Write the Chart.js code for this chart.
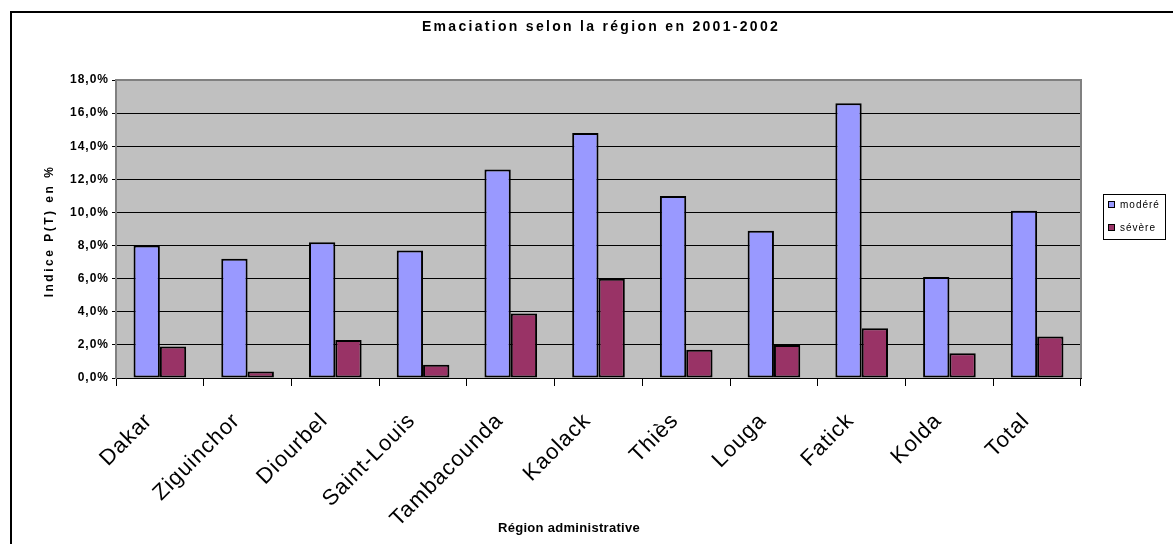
<!DOCTYPE html>
<html>
<head>
<meta charset="utf-8">
<script src="https://cdn.jsdelivr.net/npm/chart.js@4.4.1/dist/chart.umd.min.js"></script>
<style>
  html, body { margin: 0; padding: 0; background: #fff; }
  #cadre { width: 1173px; height: 544px; position: relative; }
</style>
</head>
<body>
<div id="cadre"><canvas id="graphe" width="1173" height="544"></canvas></div>
<script>
// Données (en %)
const regions = ["Dakar", "Ziguinchor", "Diourbel", "Saint-Louis", "Tambacounda", "Kaolack", "Thiès", "Louga", "Fatick", "Kolda", "Total"];
const modere = [8.0, 7.2, 8.2, 7.7, 12.6, 14.8, 11.0, 8.9, 16.6, 6.1, 10.1];
const severe = [1.9, 0.4, 2.3, 0.8, 3.9, 6.0, 1.7, 2.0, 3.0, 1.5, 2.5];
const yMax = 18;
const yPas = 2;

const titre = "Emaciation selon la région en 2001-2002";
const titreY = "Indice P(T) en %";
const titreX = "Région administrative";

const POLICE = "'Liberation Sans', Arial, sans-serif";

// espacement des lettres comme dans le rendu Excel
const espacePlugin = {
    id: "espace",
    beforeLayout(chart) { chart.ctx.letterSpacing = "1px"; },
    beforeDraw(chart) { chart.ctx.letterSpacing = "1px"; }
};

// fond blanc, cadre et zone grise
const fondPlugin = {
    id: "fond",
    beforeDraw(chart) {
        const ctx = chart.ctx, a = chart.chartArea;
        ctx.save();
        ctx.fillStyle = "#fff";
        ctx.fillRect(0, 0, chart.width, chart.height);
        ctx.fillStyle = "#000";
        ctx.fillRect(10, 11, chart.width - 10, 2);
        ctx.fillRect(10, 11, 2, chart.height - 11);
        ctx.fillStyle = "#C0C0C0";
        ctx.fillRect(a.left, a.top, a.right - a.left, a.bottom - a.top);
        ctx.restore();
    },
    afterDatasetsDraw(chart) {
        const ctx = chart.ctx, a = chart.chartArea;
        ctx.save();
        ctx.strokeStyle = "#808080";
        ctx.lineWidth = 2;
        ctx.beginPath();
        ctx.moveTo(a.left, a.top);
        ctx.lineTo(a.right, a.top);
        ctx.lineTo(a.right, a.bottom);
        ctx.stroke();
        ctx.restore();
    }
};

// titres et légende
const textesPlugin = {
    id: "textes",
    afterDraw(chart) {
        const ctx = chart.ctx;
        ctx.save();
        ctx.fillStyle = "#000";
        ctx.textAlign = "center";
        ctx.textBaseline = "middle";

        ctx.font = "bold 14px " + POLICE;
        ctx.letterSpacing = "2.3px";
        ctx.fillText(titre, 601, 27);

        ctx.letterSpacing = "0.3px";
        ctx.font = "bold 13px " + POLICE;
        ctx.fillText(titreX, 569, 528);

        ctx.save();
        ctx.translate(50, 231);
        ctx.rotate(-Math.PI / 2);
        ctx.font = "bold 12px " + POLICE;
        ctx.letterSpacing = "2.5px";
        ctx.fillText(titreY, 0, 0);
        ctx.restore();

        // légende
        ctx.fillStyle = "#fff";
        ctx.fillRect(1103, 194, 62, 45);
        ctx.strokeStyle = "#000";
        ctx.lineWidth = 1;
        ctx.strokeRect(1103.5, 194.5, 62, 45);
        ctx.textAlign = "left";
        ctx.font = "10px " + POLICE;
        ctx.letterSpacing = "1px";
        chart.data.datasets.forEach((ds, i) => {
            const y = 205 + i * 23;
            ctx.fillStyle = ds.backgroundColor;
            ctx.fillRect(1108, y - 3, 6, 6);
            ctx.strokeRect(1108.5, y - 3.5, 6, 6);
            ctx.fillStyle = "#000";
            ctx.fillText(ds.label, 1120, y);
        });
        ctx.restore();
    }
};

new Chart(document.getElementById("graphe"), {
    type: "bar",
    data: {
        labels: regions,
        datasets: [
            { label: "modéré", data: modere, backgroundColor: "#9999FF", borderColor: "#000", borderWidth: 2, borderSkipped: false },
            { label: "sévère", data: severe, backgroundColor: "#993366", borderColor: "#000", borderWidth: 2, borderSkipped: false }
        ]
    },
    options: {
        responsive: false,
        animation: false,
        devicePixelRatio: 1,
        layout: { padding: { top: 80, right: 92, left: 0, bottom: 0 } },
        datasets: { bar: { categoryPercentage: 0.6, barPercentage: 1.0 } },
        plugins: {
            legend: { display: false },
            title: { display: false },
            tooltip: { enabled: false }
        },
        scales: {
            x: {
                afterFit: s => { s.height = 166; },
                grid: { offset: true, drawOnChartArea: false, drawTicks: true, tickLength: 8, color: "#000" },
                border: { color: "#000", width: 1 },
                ticks: {
                    autoSkip: false, minRotation: 45, maxRotation: 45, padding: 22, labelOffset: -11,
                    color: "#000", font: { family: POLICE, size: 22 }
                }
            },
            y: {
                min: 0, max: yMax,
                afterFit: s => { s.width = 116; },
                grid: { color: "#000", lineWidth: 1, tickLength: 4 },
                border: { color: "#808080", width: 2 },
                ticks: {
                    stepSize: yPas, padding: 3, color: "#000",
                    font: { family: POLICE, size: 12, weight: "bold" },
                    callback: v => v.toFixed(1).replace(".", ",") + "%"
                }
            }
        }
    },
    plugins: [espacePlugin, fondPlugin, textesPlugin]
});
</script>
</body>
</html>
